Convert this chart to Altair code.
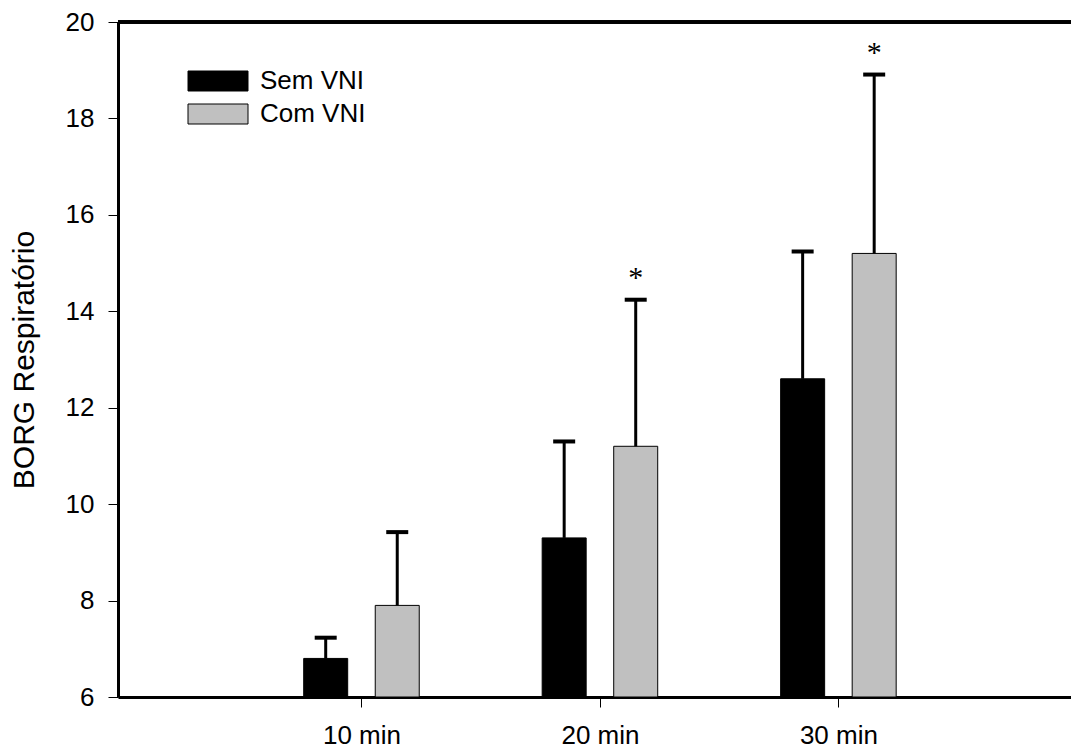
import altair as alt
import pandas as pd

categories = ["10 min", "20 min", "30 min"]
groups = ["Sem VNI", "Com VNI"]
sem_mean = [6.8, 9.3, 12.6]
sem_sd = [0.43, 2.0, 2.64]
com_mean = [7.9, 11.2, 15.2]
com_sd = [1.52, 3.04, 3.71]
com_sig = [False, True, True]
y_ticks = [6, 8, 10, 12, 14, 16, 18, 20]

rows = []
for i, cat in enumerate(categories):
    rows.append({"cat": cat, "idx": i + 1, "group": "Sem VNI", "mean": sem_mean[i],
                 "sd": sem_sd[i], "sig": False})
    rows.append({"cat": cat, "idx": i + 1, "group": "Com VNI", "mean": com_mean[i],
                 "sd": com_sd[i], "sig": com_sig[i]})
df = pd.DataFrame(rows)

FONT = "Liberation Sans"
W, H = 953, 675
label_expr = " : ".join(
    [f"datum.value == {i + 1} ? '{c}'" for i, c in enumerate(categories)] + ["''"]
)

xscale = alt.Scale(domain=[0, W / 241.0], nice=False, zero=False)
yscale = alt.Scale(domain=[6, 20], nice=False, zero=False)

base = alt.Chart(df).transform_calculate(
    pos="datum.idx + (datum.group == 'Sem VNI' ? -0.15 : 0.15)",
    upper="datum.mean + datum.sd",
)

x_enc = alt.X(
    "pos:Q", scale=xscale, title=None,
    axis=alt.Axis(values=[1, 2, 3], labelExpr=label_expr, grid=False,
                  domainWidth=3, domainColor="black", tickColor="black",
                  tickWidth=1, tickSize=10, labelFontSize=26, labelFont=FONT,
                  labelColor="black", labelPadding=15),
)
y_axis = alt.Axis(values=y_ticks, grid=False, domainWidth=3, domainColor="black",
                  tickColor="black", tickWidth=1, tickSize=10, labelFontSize=26,
                  labelFont=FONT, labelColor="black", labelPadding=14,
                  title="BORG Respiratório", titleFontSize=30, titleFont=FONT,
                  titleFontWeight="normal", titleColor="black", titlePadding=26)

bars = base.mark_bar(size=44, stroke="black", strokeWidth=1).encode(
    x=x_enc,
    y=alt.Y("mean:Q", scale=yscale, axis=y_axis),
    y2=alt.datum(6),
    color=alt.Color(
        "group:N",
        scale=alt.Scale(domain=groups, range=["#000000", "#c0c0c0"]),
        legend=alt.Legend(
            title=None, orient="none", legendX=87, legendY=46, padding=0,
            symbolType="M-3,-1L3,-1L3,1L-3,1Z", symbolSize=400,
            symbolStrokeColor="black", symbolStrokeWidth=1, symbolOpacity=1,
            labelFont=FONT, labelFontSize=26, labelColor="black",
            labelOffset=29, rowPadding=7,
        ),
    ),
)

whisk = base.mark_rule(color="black", strokeWidth=3).encode(
    x=alt.X("pos:Q", scale=xscale),
    y=alt.Y("mean:Q", scale=yscale),
    y2="upper:Q",
)

caps = base.mark_rule(color="black", strokeWidth=4, xOffset=-11, x2Offset=11).encode(
    x=alt.X("pos:Q", scale=xscale),
    x2="pos:Q",
    y=alt.Y("upper:Q", scale=yscale),
)

stars = base.transform_filter("datum.sig").mark_text(
    text="*", font="Liberation Serif", fontSize=30, baseline="middle", dy=-22,
    color="black",
).encode(
    x=alt.X("pos:Q", scale=xscale),
    y=alt.Y("upper:Q", scale=yscale),
)

top = alt.Chart(df).mark_rule(color="black", strokeWidth=3).encode(
    y=alt.value(0), x=alt.value(0), x2=alt.value(W)
)

chart = alt.layer(bars, whisk, caps, stars, top).properties(
    width=W, height=H,
    padding={"left": 118, "top": 22, "right": 0, "bottom": 52},
    autosize=alt.AutoSizeParams(type="none"),
).configure_view(stroke=None).configure(background="white")

chart.save("out.html", embed_options={"renderer": "svg", "actions": False})
